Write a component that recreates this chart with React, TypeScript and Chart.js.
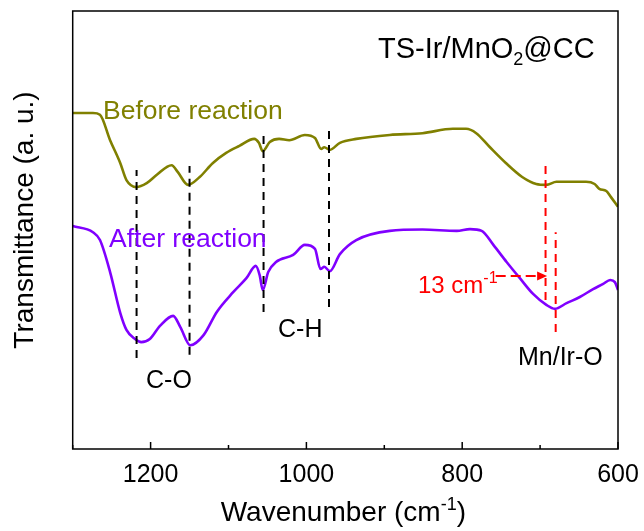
import React, { useEffect, useRef } from "react";
import { Chart, registerables } from "chart.js";

Chart.register(...registerables);

// FTIR spectra of TS-Ir/MnO2@CC (wavenumber in cm-1, transmittance in a.u.)
const beforeWn = [1300, 1274, 1265, 1252, 1239, 1231, 1218, 1205, 1192, 1173, 1165, 1152, 1137, 1120, 1103, 1086, 1067, 1061, 1056, 1047, 1035, 1022, 1002, 989, 981, 977, 970, 957, 936, 893, 851, 812, 795, 782, 765, 744, 723, 705, 692, 679, 659, 641, 630, 624, 615, 609, 600];
const beforeT = [76.7, 76.7, 76.3, 70.5, 65.3, 61.4, 59.8, 60.7, 62.6, 64.8, 63.2, 60.3, 62.1, 65.3, 67.6, 69.2, 70.8, 69.9, 68.0, 70.1, 70.8, 70.5, 71.7, 71.0, 68.5, 68.9, 68.3, 69.9, 70.8, 71.7, 72.1, 73.1, 73.1, 72.1, 69.0, 65.3, 62.1, 60.5, 60.3, 61.0, 61.0, 61.0, 60.5, 59.4, 58.9, 57.5, 55.3];

const afterWn = [1300, 1274, 1265, 1252, 1239, 1231, 1220, 1212, 1201, 1188, 1171, 1162, 1149, 1132, 1115, 1094, 1077, 1065, 1060, 1056, 1049, 1039, 1017, 1002, 989, 982, 977, 970, 957, 936, 893, 851, 807, 790, 775, 760, 743, 726, 709, 692, 681, 666, 649, 632, 619, 610, 604, 600];
const afterT = [50.9, 49.5, 47.7, 40.4, 31.1, 27.2, 25.1, 24.4, 25.1, 28.1, 30.4, 27.9, 23.7, 26.0, 31.3, 35.8, 39.0, 41.8, 39.7, 36.3, 40.4, 42.7, 44.3, 46.6, 45.7, 41.1, 41.6, 40.6, 44.5, 47.7, 49.8, 50.1, 49.8, 50.2, 49.8, 46.6, 42.7, 39.0, 35.4, 32.9, 32.0, 33.3, 34.7, 36.5, 37.7, 38.6, 38.1, 36.3];

// Band assignment guides: C-O (two), C-H (two)
const guideWn = [1218, 1150, 1055, 971];
const guideLow = [20.8, 21.5, 31.3, 32.4];
const guideHigh = [63.7, 64.6, 72.4, 73.5];

// Mn/Ir-O band before / after reaction
const shiftWn = [693, 680];
const shiftLow = [34.0, 26.7];
const shiftHigh = [65.8, 49.5];
const arrowFromWn = 757;
const arrowToWn = 691;
const arrowT = 39.5;

const OLIVE = "#808000";
const VIOLET = "#8000FF";
const RED = "#FF0000";
const FONT = "'Liberation Sans', Arial, sans-serif";

type Run = [string, number, number];

function drawRuns(ctx: CanvasRenderingContext2D, x: number, y: number, runs: Run[], color: string, align: "left" | "center" = "left") {
  ctx.fillStyle = color;
  ctx.textAlign = "left";
  ctx.textBaseline = "alphabetic";
  let total = 0;
  for (const [t, size] of runs) {
    ctx.font = `${size}px ${FONT}`;
    total += ctx.measureText(t).width;
  }
  let cx = align === "center" ? x - total / 2 : x;
  for (const [t, size, dy] of runs) {
    ctx.font = `${size}px ${FONT}`;
    ctx.fillText(t, cx, y + dy);
    cx += ctx.measureText(t).width;
  }
}

const decorations = {
  id: "decorations",
  afterDatasetsDraw(chart: any) {
    const { ctx, chartArea: a, scales } = chart;
    const xs = scales.x;
    const ys = scales.y;
    ctx.save();

    // frame
    ctx.strokeStyle = "#000";
    ctx.lineWidth = 1.5;
    ctx.setLineDash([]);
    ctx.strokeRect(a.left, a.top, a.right - a.left, a.bottom - a.top);

    // inward tick marks on the wavenumber axis
    for (const t of xs.ticks) {
      const px = xs.getPixelForValue(t.value);
      const len = t.value % 200 === 0 ? 7 : 4;
      ctx.beginPath();
      ctx.moveTo(px, a.bottom);
      ctx.lineTo(px, a.bottom - len);
      ctx.stroke();
    }

    // arrow head of the shift marker
    const tipX = xs.getPixelForValue(arrowToWn);
    const tipY = ys.getPixelForValue(arrowT);
    ctx.fillStyle = RED;
    ctx.beginPath();
    ctx.moveTo(tipX, tipY);
    ctx.lineTo(tipX - 10, tipY - 4.5);
    ctx.lineTo(tipX - 10, tipY + 4.5);
    ctx.closePath();
    ctx.fill();

    // labels
    drawRuns(ctx, 103, 119, [["Before reaction", 26.5, 0]], OLIVE);
    drawRuns(ctx, 109, 247, [["After reaction", 26.5, 0]], VIOLET);
    drawRuns(ctx, 146, 388, [["C-O", 25, 0]], "#000");
    drawRuns(ctx, 278, 337, [["C-H", 25, 0]], "#000");
    drawRuns(ctx, 518, 365, [["Mn/Ir-O", 25, 0]], "#000");
    drawRuns(ctx, 418, 293, [["13 cm", 24, 0], ["-1", 16, -10]], RED);
    drawRuns(ctx, 378, 58, [["TS-Ir/MnO", 29, 0], ["2", 18, 7], ["@CC", 29, 0]], "#000");

    // axis titles
    drawRuns(ctx, (a.left + a.right) / 2 - 2, 521, [["Wavenumber (cm", 28, 0], ["-1", 18, -11], [")", 28, 0]], "#000", "center");
    ctx.save();
    ctx.translate(33, 220);
    ctx.rotate(-Math.PI / 2);
    drawRuns(ctx, 0, 0, [["Transmittance (a. u.)", 28, 0]], "#000", "center");
    ctx.restore();

    ctx.restore();
  },
};

function segment(wn: number, lo: number, hi: number, color: string) {
  return {
    data: [{ x: wn, y: lo }, { x: wn, y: hi }],
    borderColor: color,
    borderWidth: 2,
    borderDash: [8, 6],
    pointRadius: 0,
    tension: 0,
  };
}

export default function App() {
  const ref = useRef<HTMLCanvasElement | null>(null);

  useEffect(() => {
    if (!ref.current) return;
    const spectra = [
      {
        data: beforeWn.map((w, i) => ({ x: w, y: beforeT[i] })),
        borderColor: OLIVE,
        borderWidth: 2.6,
        pointRadius: 0,
        cubicInterpolationMode: "monotone" as const,
      },
      {
        data: afterWn.map((w, i) => ({ x: w, y: afterT[i] })),
        borderColor: VIOLET,
        borderWidth: 2.6,
        pointRadius: 0,
        cubicInterpolationMode: "monotone" as const,
      },
    ];
    const guides = guideWn.map((w, i) => segment(w, guideLow[i], guideHigh[i], "#000"));
    const shifts = shiftWn.map((w, i) => segment(w, shiftLow[i], shiftHigh[i], RED));
    const arrow = {
      data: [{ x: arrowFromWn, y: arrowT }, { x: arrowToWn + 3, y: arrowT }],
      borderColor: RED,
      borderWidth: 2,
      borderDash: [10, 5],
      pointRadius: 0,
    };

    const chart = new Chart(ref.current, {
      type: "line",
      data: { datasets: [...guides, ...shifts, arrow, ...spectra] as any },
      options: {
        animation: false,
        responsive: false,
        devicePixelRatio: 1,
        layout: { padding: { top: 11, right: 26, left: 0, bottom: 0 } },
        plugins: { legend: { display: false }, tooltip: { enabled: false } },
        scales: {
          x: {
            type: "linear",
            reverse: true,
            min: 600,
            max: 1300,
            grid: { display: false, drawTicks: false },
            border: { display: false },
            ticks: {
              stepSize: 100,
              includeBounds: false,
              autoSkip: false,
              maxRotation: 0,
              padding: 11,
              color: "#000",
              font: { family: FONT, size: 25 },
              callback: (v: any) => (Number(v) % 200 === 0 ? String(v) : ""),
            },
            afterFit: (s: any) => {
              s.height = 82;
              s.paddingLeft = 0;
              s.paddingRight = 0;
            },
          },
          y: {
            min: 0,
            max: 100,
            grid: { display: false, drawTicks: false },
            border: { display: false },
            ticks: { display: false },
            afterFit: (s: any) => {
              s.width = 72.7;
            },
          },
        },
      },
      plugins: [decorations],
    });
    return () => chart.destroy();
  }, []);

  return (
    <div style={{ position: "fixed", left: 0, top: 0, width: 644, height: 531, background: "#fff" }}>
      <canvas ref={ref} width={644} height={531} />
    </div>
  );
}
